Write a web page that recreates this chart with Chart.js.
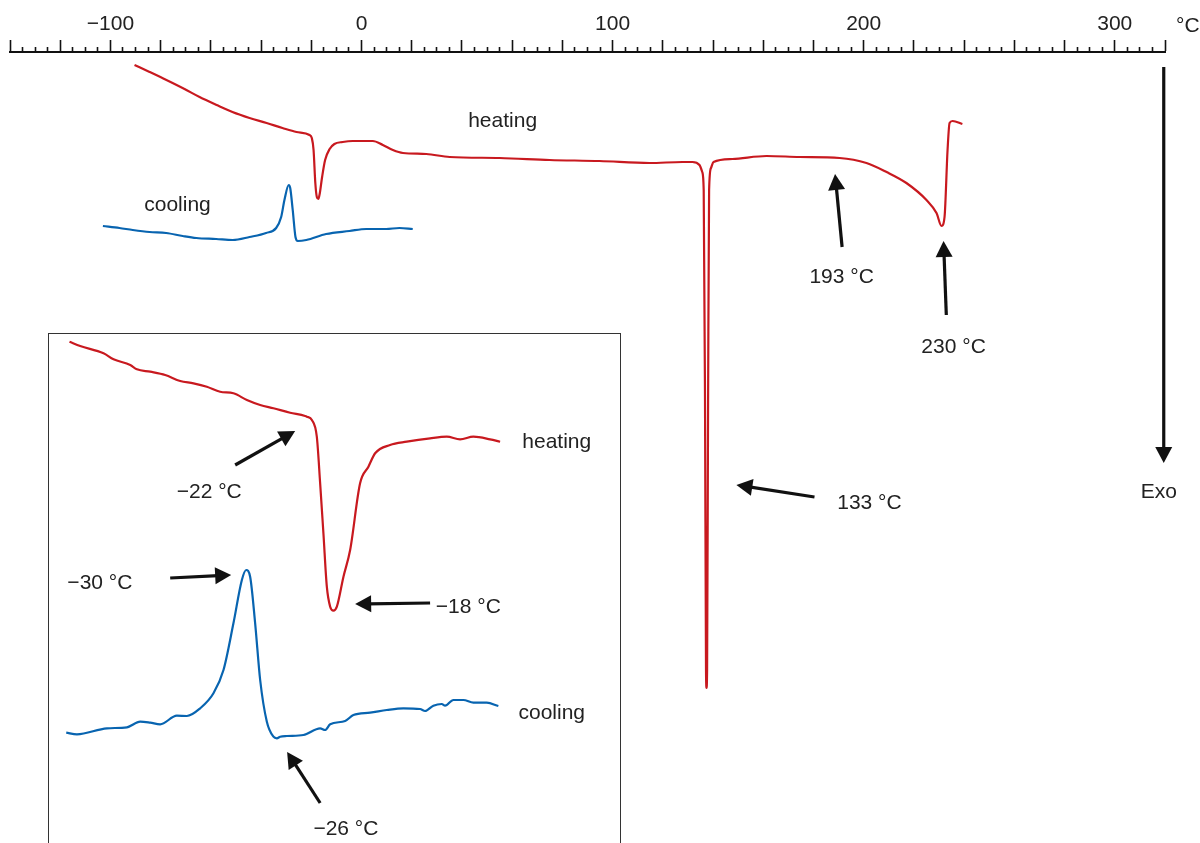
<!DOCTYPE html>
<html>
<head>
<meta charset="utf-8">
<script src="https://cdn.jsdelivr.net/npm/chart.js@4"></script>
<style>
html, body { margin: 0; padding: 0; background: #fff; overflow: hidden; }
#main { position: absolute; left: 0; top: 0; width: 1200px; height: 843px; }
#insetBox { position: absolute; left: 48px; top: 333px; width: 571px; height: 530px;
            border: 1px solid #333; border-bottom: none; background: #fff; }
#insetWrap { position: relative; width: 571px; height: 509px; }
</style>
</head>
<body>
<div id="main"><canvas id="dsc"></canvas></div>
<div id="insetBox"><div id="insetWrap"><canvas id="inset"></canvas></div></div>
<script>
// temperature (°C) and heat flow (a.u.)
let heatT = [-90.4, -84.4, -77.7, -70.5, -64.5, -57.7, -51.4, -44.6, -37.8, -31.5, -25.9, -20.7,
    -19.8, -19.1, -18.4, -17.8, -17.2, -16.6, -15.7, -14.5, -12.7, -10.8, -7.5, -3.5, 4.5, 8.5,
    12.5, 16.5, 25.8, 35.1, 55.0, 74.9, 94.8, 114.7, 127.8, 131.8, 134.6, 135.7, 136.28, 136.8,
    137.2, 137.4, 137.63, 138.03, 138.43, 139.19, 140.18, 147.7, 161.3, 174.4, 190.4, 201.1,
    209.1, 217.0, 225.0, 229.0, 231.0, 232.2, 233.4, 234.2, 235.4, 239.3];
let heatV = [77.8, 77.1, 76.3, 75.4, 74.6, 73.8, 73.1, 72.5, 72.0, 71.5, 71.1, 70.8,
    70.5, 69.3, 66.0, 64.6, 64.4, 65.0, 66.6, 68.3, 69.4, 69.9, 70.1, 70.2, 70.2, 69.8,
    69.3, 69.0, 68.9, 68.6, 68.5, 68.3, 68.2, 68.0, 68.1, 68.1, 67.8, 67.1, 65.3, 44.3,
    17.3, 15.5, 17.3, 44.3, 65.3, 67.5, 68.1, 68.4, 68.7, 68.6, 68.5, 68.0,
    67.1, 66.0, 64.3, 63.0, 61.7, 62.6, 69.3, 72.0, 72.2, 71.9];

let coolT = [-103.0, -96.4, -91.1, -84.4, -77.8, -71.2, -65.8, -57.9, -51.3, -44.6, -38.0, -34.0,
    -32.0, -30.7, -29.0, -28.4, -27.4, -26.3, -25.4, -22.0, -14.1, -4.8, 1.9, 9.8, 15.1, 20.4];
let coolV = [61.7, 61.5, 61.3, 61.1, 61.0, 60.7, 60.5, 60.4, 60.3, 60.6, 61.0, 61.5,
    62.6, 64.3, 65.8, 65.5, 63.3, 60.6, 60.2, 60.3, 60.9, 61.2, 61.4, 61.4, 61.5, 61.4];

// inset (zoomed region around the low-temperature transition)
let insHeatT = [-53.2, -51.79, -48.72, -47.4, -45.2, -44.32, -42.57, -40.6, -38.62, -36.87, -35.11,
    -33.36, -31.61, -29.84, -28.09, -26.34, -24.14, -22.17, -21.94, -21.28, -20.63, -20.19, -19.76,
    -19.31, -18.87, -18.44, -17.99, -17.12, -16.24, -14.93, -13.83, -12.95, -10.98, -8.78, -5.71,
    -3.51, -1.76, -0.01, 2.19, 3.51];
let insHeatV = [50.13, 49.7, 48.97, 48.37, 47.8, 47.37, 47.13, 46.8, 46.2, 45.97, 45.63,
    45.13, 44.97, 44.3, 43.8, 43.47, 43.03, 42.7, 42.63, 42.3, 40.63, 35.97, 30.97,
    25.63, 23.63, 23.23, 23.63, 26.63, 29.3, 35.97, 37.63, 38.97, 39.8, 40.13, 40.47,
    40.63, 40.37, 40.63, 40.37, 40.13];

let insCoolT = [-53.63, -52.22, -48.27, -45.64, -43.89, -42.57, -41.26, -39.06, -37.74, -35.99, -34.24,
    -32.92, -31.61, -30.5, -29.93, -29.41, -28.75, -28.09, -27.21, -26.34, -25.89, -25.46, -24.58,
    -22.39, -20.19, -19.53, -18.87, -16.9, -15.81, -13.61, -11.41, -9.22, -7.03, -6.37, -5.28,
    -4.17, -3.74, -2.64, -1.33, -0.01, 1.75, 3.28];
let insCoolV = [11.03, 10.87, 11.47, 11.57, 12.13, 12.03, 11.87, 12.73, 12.7, 13.47, 14.97,
    17.3, 21.97, 26.3, 27.3, 26.63, 21.97, 16.3, 12.13, 10.63, 10.47, 10.63, 10.7,
    10.8, 11.47, 11.3, 11.87, 12.2, 12.8, 13.03, 13.3, 13.47, 13.4, 13.2, 13.73,
    13.9, 13.73, 14.3, 14.3, 14.03, 14.03, 13.7];

let tickValues = [-100, 0, 100, 200, 300];
let tickLabels = ['\u2212100', '0', '100', '200', '300'];

// arrows: [fromT, fromV, toT, toV]; labels: [text, T, V]
let mainArrows = [[191.4, 59.6, 188.6, 66.9], [232.9, 52.8, 231.8, 60.2],
    [180.4, 34.6, 149.3, 35.8], [319.5, 77.6, 319.5, 38.0]];
let mainLabels = [['heating', 56.2, 72.2], ['cooling', -73.3, 63.8], ['193 \u00b0C', 191.2, 56.55],
    ['230 \u00b0C', 235.8, 49.6], ['133 \u00b0C', 202.3, 34.0], ['Exo', 317.5, 35.1]];
let insetArrows = [[-31.38, 37.8, -23.48, 41.2], [-5.71, 24.0, -15.58, 23.9],
    [-39.94, 26.5, -31.91, 26.8], [-20.19, 4.0, -24.54, 9.1]];
let insetLabels = [['heating', 10.97, 40.1], ['cooling', 10.31, 13.0], ['\u221222 \u00b0C', -34.8, 35.1],
    ['\u221218 \u00b0C', -0.68, 23.6], ['\u221230 \u00b0C', -49.2, 26.0], ['\u221226 \u00b0C', -16.8, 1.4]];

const RED = '#c8191f';
const BLUE = '#0864b0';
const FONT = '"Liberation Sans", Arial, sans-serif';

Chart.defaults.font.family = FONT;
Chart.defaults.font.size = 20;
Chart.defaults.color = '#222';

function points(xs, ys) {
    return xs.map((x, i) => ({ x: x, y: ys[i] }));
}

function curve(xs, ys, color) {
    return {
        data: points(xs, ys),
        borderColor: color,
        borderWidth: 2.2,
        pointRadius: 0,
        fill: false,
        cubicInterpolationMode: 'monotone'
    };
}

function annotations(arrows, labels, unit) {
    return {
        id: 'annotations',
        afterDatasetsDraw(chart) {
            const ctx = chart.ctx;
            const xs = chart.scales.x, ys = chart.scales.y;
            ctx.save();
            ctx.strokeStyle = '#111';
            ctx.fillStyle = '#111';
            arrows.forEach(a => {
                const x1 = xs.getPixelForValue(a[0]), y1 = ys.getPixelForValue(a[1]);
                const x2 = xs.getPixelForValue(a[2]), y2 = ys.getPixelForValue(a[3]);
                const ang = Math.atan2(y2 - y1, x2 - x1);
                const c = Math.cos(ang), s = Math.sin(ang);
                const hl = 16, hw = 8.5;
                ctx.lineWidth = 3.2;
                ctx.beginPath();
                ctx.moveTo(x1, y1);
                ctx.lineTo(x2 - c * hl * 0.8, y2 - s * hl * 0.8);
                ctx.stroke();
                ctx.beginPath();
                ctx.moveTo(x2, y2);
                ctx.lineTo(x2 - c * hl - s * hw, y2 - s * hl + c * hw);
                ctx.lineTo(x2 - c * hl + s * hw, y2 - s * hl - c * hw);
                ctx.closePath();
                ctx.fill();
            });
            ctx.font = '21px ' + FONT;
            ctx.fillStyle = '#222';
            ctx.textAlign = 'center';
            ctx.textBaseline = 'middle';
            labels.forEach(l => {
                ctx.fillText(l[0], xs.getPixelForValue(l[1]), ys.getPixelForValue(l[2]));
            });
            if (unit) {
                ctx.textAlign = 'left';
                ctx.fillText(unit, xs.right + 11, 26);
            }
            ctx.restore();
        }
    };
}

const isMajor = ctx => ctx.tick && ctx.tick.value % 20 === 0;

new Chart(document.getElementById('dsc'), {
    type: 'line',
    data: {
        datasets: [curve(heatT, heatV, RED), curve(coolT, coolV, BLUE)]
    },
    options: {
        responsive: true,
        maintainAspectRatio: false,
        animation: false,
        layout: { padding: { left: 10, right: 35, top: 0, bottom: 0 } },
        plugins: { legend: { display: false }, tooltip: { enabled: false } },
        scales: {
            x: {
                type: 'linear',
                position: 'top',
                min: -140,
                max: 320,
                afterBuildTicks: scale => {
                    let t = [];
                    for (let v = -140; v <= 320; v += 5) t.push({ value: v });
                    scale.ticks = t;
                },
                afterFit: scale => { scale.height = 52; },
                border: { display: true, color: '#111', width: 2 },
                grid: {
                    drawOnChartArea: false,
                    drawTicks: true,
                    tickLength: 12,
                    tickColor: '#111',
                    tickWidth: 1.6,
                    tickBorderDash: ctx => isMajor(ctx) ? [] : [5, 7],
                    tickBorderDashOffset: ctx => isMajor(ctx) ? 0 : 5
                },
                ticks: {
                    autoSkip: false,
                    maxRotation: 0,
                    minRotation: 0,
                    padding: 3,
                    color: '#222',
                    font: { size: 21 },
                    callback: v => {
                        let i = tickValues.indexOf(v);
                        return i >= 0 ? tickLabels[i] : '';
                    }
                }
            },
            y: { type: 'linear', display: false, min: 0, max: 79.1 }
        }
    },
    plugins: [annotations(mainArrows, mainLabels, '\u00b0C')]
});

new Chart(document.getElementById('inset'), {
    type: 'line',
    data: {
        datasets: [curve(insHeatT, insHeatV, RED), curve(insCoolT, insCoolV, BLUE)]
    },
    options: {
        responsive: true,
        maintainAspectRatio: false,
        animation: false,
        layout: { padding: 0 },
        plugins: { legend: { display: false }, tooltip: { enabled: false } },
        scales: {
            x: { type: 'linear', display: false, min: -55.9, max: 19.3 },
            y: { type: 'linear', display: false, min: 0, max: 50.9 }
        }
    },
    plugins: [annotations(insetArrows, insetLabels, null)]
});
</script>
</body>
</html>
